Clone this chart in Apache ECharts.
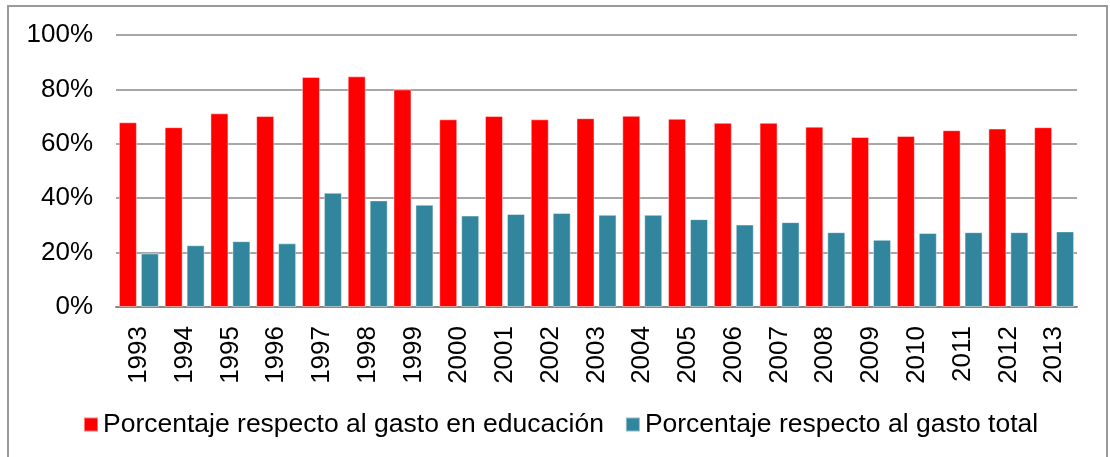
<!DOCTYPE html>
<html>
<head>
<meta charset="utf-8">
<script src="https://cdn.jsdelivr.net/npm/echarts@6/dist/echarts.min.js"></script>
<style>
  html, body { margin: 0; padding: 0; background: #fff; }
  #main { width: 1110px; height: 457px; }
</style>
</head>
<body>
<div id="main"></div>
<script>
// datos
const years = ['1993','1994','1995','1996','1997','1998','1999','2000','2001','2002','2003',
               '2004','2005','2006','2007','2008','2009','2010','2011','2012','2013'];
const gastoEducacion = [67.9, 66.1, 71.2, 70.2, 84.6, 84.8, 80.0, 69.0, 70.2, 69.0, 69.4,
                        70.3, 69.2, 67.7, 67.7, 66.3, 62.5, 62.9, 65.0, 65.6, 66.1];
const gastoTotal = [19.7, 22.7, 24.2, 23.4, 42.0, 39.2, 37.6, 33.6, 34.2, 34.6, 33.9,
                    33.9, 32.3, 30.3, 31.2, 27.5, 24.7, 27.2, 27.5, 27.5, 27.8];
const nombres = ['Porcentaje respecto al gasto en educación', 'Porcentaje respecto al gasto total'];

const myChart = echarts.init(document.getElementById('main'));
const font = 'Liberation Sans, Arial, sans-serif';

const option = {
  animation: false,
  textStyle: { fontFamily: font },
  graphic: [{
    type: 'rect',
    shape: { x: 8, y: 6, width: 1099, height: 470 },
    style: { fill: 'none', stroke: '#9a9a9a', lineWidth: 2 }
  }],
  legend: {
    data: nombres,
    left: 78,
    top: 406,
    itemWidth: 14,
    itemHeight: 14,
    itemGap: 21,
    icon: 'rect',
    textStyle: { fontSize: 26.5, color: '#000', fontFamily: font }
  },
  grid: { left: 116, right: 33, top: 35, bottom: 150 },
  xAxis: {
    type: 'category',
    data: years,
    axisLine: { lineStyle: { color: '#888', width: 2 } },
    axisTick: { show: false },
    axisLabel: { rotate: 90, margin: 19, fontSize: 26, color: '#000', fontFamily: font }
  },
  yAxis: {
    type: 'value',
    min: 0,
    max: 100,
    interval: 20,
    axisLine: { show: false },
    axisTick: { show: false },
    axisLabel: { formatter: '{value}%', margin: 23, fontSize: 26, color: '#000', fontFamily: font },
    splitLine: { lineStyle: { color: '#888', width: 1.5 } }
  },
  series: [
    {
      name: nombres[0],
      type: 'bar',
      data: gastoEducacion,
      barWidth: 18,
      barGap: '22%',
      itemStyle: { color: '#ff0000', borderColor: 'rgba(255,255,255,0.45)', borderWidth: 1 }
    },
    {
      name: nombres[1],
      type: 'bar',
      data: gastoTotal,
      barWidth: 18,
      barGap: '22%',
      itemStyle: { color: '#31859c', borderColor: 'rgba(255,255,255,0.45)', borderWidth: 1 }
    }
  ]
};
myChart.setOption(option);
</script>
</body>
</html>
